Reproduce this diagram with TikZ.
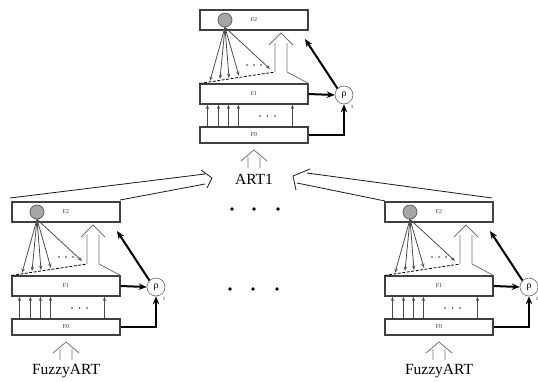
\documentclass[tikz,border=0pt]{standalone}
\usepackage{fontspec}
\setmainfont{Liberation Serif}
\usetikzlibrary{arrows.meta}

% One ART unit: F2 / F1 / F0 layers, vigilance node and input arrow.
% #1 name prefix, #2 #3 top-left corner of the F2 layer, #4 caption
\newcommand\artunit[4]{%
\begin{scope}[shift={(#2,#3)}]
  \node[layer, minimum height=20pt] (#1f2) at (54,10) {F2};
  \node[winner] (#1win) at (25,10) {};
  \node[layer, minimum height=20pt] (#1f1) at (54,84) {F1};
  \node[layer, minimum height=16pt] (#1f0) at (54,125) {F0};
  \node[vigil] (#1rho) at (144,85) {ρ};
  \node[font=\fontsize{5}{5}\selectfont, inner sep=0pt] (#1sub) at (152,97) {1};
  % funnel from F1 into the hollow up-arrow
  \coordinate (#1fa) at (75,62);
  \coordinate (#1fb) at (87,62);
  \coordinate (#1ta) at (75,33);
  \coordinate (#1tb) at (87,33);
  \coordinate (#1hl) at (69,35);
  \coordinate (#1ht) at (81,23);
  \coordinate (#1hr) at (93,35);
  \draw[dashed, dash pattern=on 3pt off 1.5pt, line width=0.8pt] (#1f1.north west) -- (#1fa);
  \draw[hollow] (#1fb) -- (#1f1.north east);
  \draw[hollow] (#1fa) -- (#1ta) (#1fb) -- (#1tb) (#1hl) -- (#1ht) -- (#1hr);
  % top-down fan from the winning F2 unit
  \foreach \x/\y in {10/71,20/69,29/68,39/66} {
    \coordinate (#1fan\x) at (\x,\y);
    \draw[thin arrow] (#1win.south) -- (#1fan\x);
  }
  \coordinate (#1fanlong) at (70,59);
  \draw[thin arrow] (#1win.south) -- (#1fanlong);
  \foreach \x in {47,54,61} \fill[black!80] (\x,55) circle (0.8);
  % bottom-up links F0 -> F1
  \foreach \x in {8,19,29,39,93}
    \draw[thin arrow] ([xshift=\x pt]#1f0.north west) -- ([xshift=\x pt]#1f1.south west);
  \foreach \x in {60,67.5,75} \fill[black!80] (\x,106) circle (0.8);
  % vigilance links
  \draw[bold arrow] (#1f1.east) -- (#1rho.west);
  \draw[bold arrow] (#1f0.east) -| (#1rho.south);
  \coordinate (#1reset) at (105,29);
  \draw[bold arrow] (#1rho.north west) -- (#1reset);
  % input arrow
  \coordinate (#1ia) at (48,158);
  \coordinate (#1ib) at (60,158);
  \coordinate (#1ic) at (48,147);
  \coordinate (#1id) at (60,147);
  \coordinate (#1il) at (41,151);
  \coordinate (#1it) at (54,140);
  \coordinate (#1ir) at (67,151);
  \draw[hollow] (#1ia) -- (#1ic) (#1ib) -- (#1id) (#1il) -- (#1it) -- (#1ir);
  \node[font=\fontsize{15.5}{16}\selectfont, inner sep=0pt] (#1name) at (54,169) {#4};
\end{scope}}

\begin{document}
\begin{tikzpicture}[x=1pt, y=-1pt,
  layer/.style={draw=black!75, line width=1.1pt, fill=white, minimum width=108pt,
    inner sep=0pt, font=\fontsize{6}{6}\selectfont, text=black!80},
  winner/.style={circle, draw=black!65, fill=black!35, line width=0.7pt,
    minimum size=14pt, inner sep=0pt},
  vigil/.style={circle, draw=black!60, fill=white, line width=0.6pt,
    minimum size=18pt, inner sep=0pt, font=\fontsize{10}{10}\selectfont},
  thin arrow/.style={draw=black!70, line width=0.8pt, -{Stealth[length=4.5pt, width=3.2pt]}},
  bold arrow/.style={line width=2pt, -{Stealth[length=8pt, width=6.5pt]}},
  hollow/.style={draw=black!55, line width=0.8pt},
  wide/.style={draw=black!90, line width=0.8pt},
  dot/.style={fill=black}
]
\useasboundingbox (0,0) rectangle (538,381);

\artunit{top}{200}{10}{ART1}
\artunit{lft}{12}{202}{FuzzyART}
\artunit{rgt}{385}{202}{FuzzyART}

% hollow arrow from the left FuzzyART into ART1
\coordinate (la) at (10,198);
\coordinate (lb) at (120,200);
\coordinate (lc) at (205,174);
\coordinate (ld) at (205,184);
\coordinate (le) at (201,170);
\coordinate (lt) at (212,178);
\coordinate (lf) at (207,188);
\draw[wide] (la) -- (lc) (lb) -- (ld) (le) -- (lt) -- (lf);

% hollow arrow from the right FuzzyART into ART1
\coordinate (ra) at (492,198);
\coordinate (rb) at (385,201);
\coordinate (rc) at (307,173);
\coordinate (rd) at (297,183);
\coordinate (re) at (310,169);
\coordinate (rt) at (293,176);
\coordinate (rf) at (296,190);
\draw[wide] (ra) -- (rc) (rb) -- (rd) (re) -- (rt) -- (rf);

% ellipsis between the units
\foreach \x in {232,254,278} \fill[dot] (\x,209) circle (1.8);
\foreach \x in {230,253,277} \fill[dot] (\x,289) circle (1.8);
\end{tikzpicture}
\end{document}
